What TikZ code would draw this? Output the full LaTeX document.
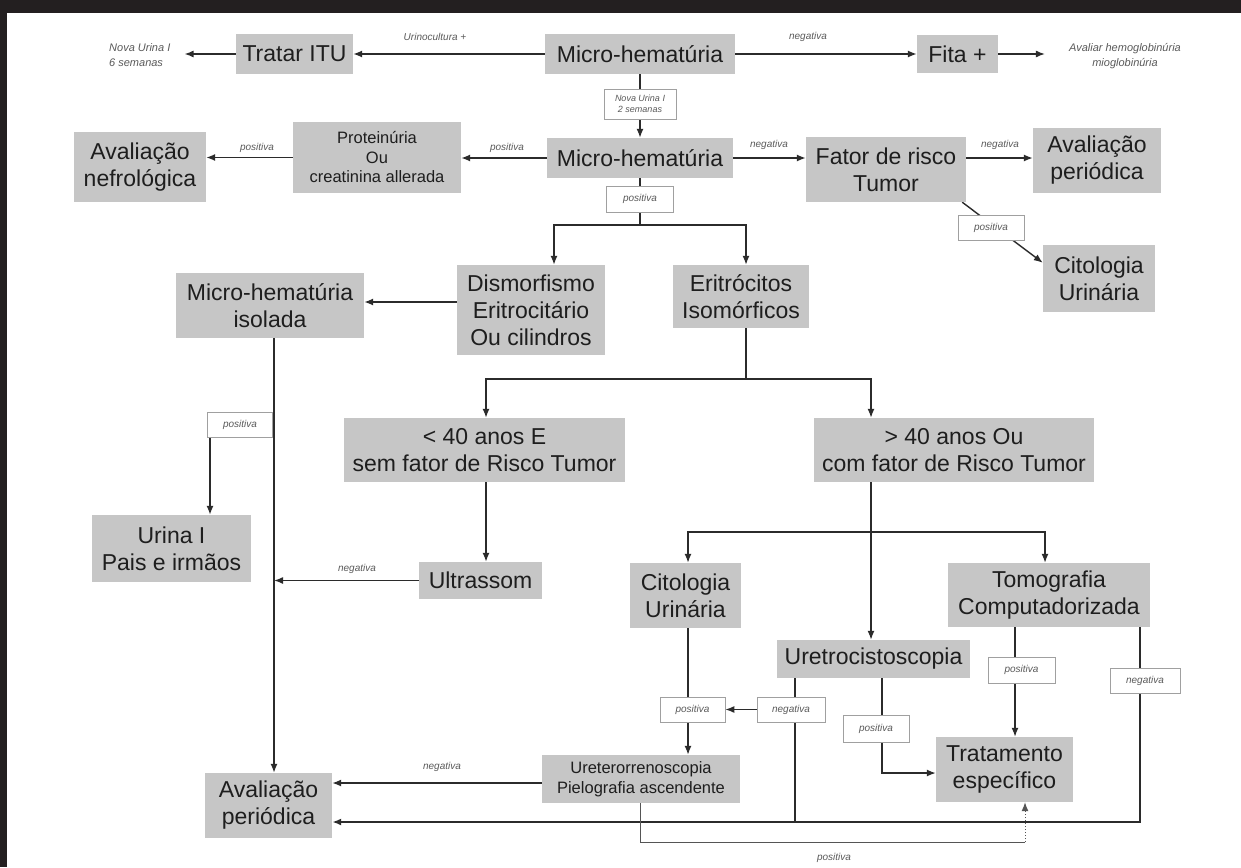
\documentclass[tikz,border=0pt]{standalone}
\usepackage{fontspec}
\setmainfont{Liberation Sans}
\usetikzlibrary{arrows.meta,calc}
\definecolor{boxgray}{HTML}{C6C6C6}
\definecolor{ink}{HTML}{1E1E1E}
\definecolor{lineink}{HTML}{2B2B2B}
\definecolor{lblborder}{HTML}{A0A0A0}
\definecolor{lbltext}{HTML}{5A5A5A}
\definecolor{framecol}{HTML}{231F20}
\pgfdeclarelayer{bg}
\pgfdeclarelayer{paper}
\pgfsetlayers{paper,bg,main}
\begin{document}
\begin{tikzpicture}[x=1pt,y=-1pt,
 box/.style={fill=boxgray, text=ink, inner sep=0pt, align=center, font=\fontsize{23}{27}\selectfont},
 mbox/.style={box, font=\fontsize{16.5}{19.5}\selectfont},
 lbl/.style={draw=lblborder, line width=0.6pt, fill=white, text=lbltext, inner sep=0pt, align=center, font=\fontsize{10}{12}\selectfont\itshape},
 ftxt/.style={text=lbltext, inner sep=0pt, font=\fontsize{10}{12}\selectfont\itshape},
 note/.style={text=lbltext, inner sep=0pt, font=\fontsize{11}{15}\selectfont\itshape},
 ln/.style={draw=lineink, line width=1.4pt},
 arr/.style={ln, -{Latex[length=9pt,width=7pt]}},
]
\useasboundingbox (0,0) rectangle (1241,867);
\begin{pgfonlayer}{paper}
\fill[white] (0,0) rectangle (1241,867);
\fill[framecol] (0,0) rectangle (1241,13);
\fill[framecol] (0,0) rectangle (7,867);
\end{pgfonlayer}

% ---- row 1
\node[box, minimum width=117pt, minimum height=40pt] (tratar) at (294.5,54) {Tratar ITU};
\node[box, minimum width=190pt, minimum height=40pt] (micro1) at (640,54) {Micro-hematúria};
\node[box, minimum width=81pt, minimum height=38pt] (fita) at (957.5,54) {Fita +};
\node[note, align=left, anchor=west] (nova6) at (109,55) {Nova Urina I\\6 semanas};
\node[note, align=center] (avaliar) at (1125,56.5) {Avaliar hemoglobinúria\\mioglobinúria};
\node[ftxt] (tUrino) at (435,37) {Urinocultura +};
\node[ftxt] (tNeg1) at (808,37) {negativa};

% ---- row 2
\node[lbl, minimum width=72pt, minimum height=30pt, font=\fontsize{9}{11}\selectfont\itshape] (lblN2) at (640,104) {Nova Urina I\\2 semanas};
\node[box, minimum width=186pt, minimum height=40pt] (micro2) at (640,158) {Micro-hematúria};
\node[mbox, minimum width=168pt, minimum height=71pt] (prot) at (377,157.5) {Proteinúria\\Ou\\creatinina allerada};
\node[box, minimum width=132pt, minimum height=70pt] (avalnef) at (140,167) {Avaliação\\nefrológica};
\node[box, minimum width=160pt, minimum height=65pt] (fator) at (886,169.5) {Fator de risco\\Tumor};
\node[box, minimum width=128pt, minimum height=65pt] (avalper1) at (1097,160.5) {Avaliação\\periódica};
\node[ftxt] (tPos1) at (257,148) {positiva};
\node[ftxt] (tPos2) at (507,148) {positiva};
\node[ftxt] (tNeg2) at (769,145) {negativa};
\node[ftxt] (tNeg3) at (1000,145) {negativa};

% ---- row 3
\node[lbl, minimum width=67pt, minimum height=26pt] (lblP1) at (640,199) {positiva};
\node[lbl, minimum width=66pt, minimum height=25pt] (lblF) at (991,227.5) {positiva};
\node[box, minimum width=112pt, minimum height=67pt] (citol1) at (1099,278.5) {Citologia\\Urinária};
\node[box, minimum width=148pt, minimum height=90pt] (dismorf) at (531,310) {Dismorfismo\\Eritrocitário\\Ou cilindros};
\node[box, minimum width=136pt, minimum height=63pt] (eritro) at (741,296.5) {Eritrócitos\\Isomórficos};
\node[box, minimum width=188pt, minimum height=65pt] (isolada) at (270,305.5) {Micro-hematúria\\isolada};

% ---- row 4
\node[box, minimum width=281pt, minimum height=64pt] (lt40) at (484.5,450) {< 40 anos E\\sem fator de Risco Tumor};
\node[box, minimum width=280pt, minimum height=64pt] (gt40) at (954,450) {> 40 anos Ou\\com fator de Risco Tumor};
\node[lbl, minimum width=65pt, minimum height=25pt] (lblU) at (240,424.5) {positiva};
\node[box, minimum width=159pt, minimum height=67pt] (urina) at (171.5,548.5) {Urina I\\Pais e irmãos};
\node[box, minimum width=123pt, minimum height=37pt] (ultrassom) at (480.5,580.5) {Ultrassom};
\node[ftxt] (tNeg4) at (357,569) {negativa};

% ---- row 5
\node[box, minimum width=111pt, minimum height=65pt] (citol2) at (685.5,595.5) {Citologia\\Urinária};
\node[box, minimum width=202pt, minimum height=64pt] (tomo) at (1049,595) {Tomografia\\Computadorizada};
\node[box, minimum width=193pt, minimum height=38pt] (uretrocisto) at (873.5,659) {Uretrocistoscopia};
\node[lbl, minimum width=65pt, minimum height=25pt] (lblCP) at (692.5,709.5) {positiva};
\node[lbl, minimum width=68pt, minimum height=25pt] (lblCN) at (791,709.5) {negativa};
\node[lbl, minimum width=66pt, minimum height=27pt] (lblUP) at (876,728.5) {positiva};
\node[lbl, minimum width=67pt, minimum height=26pt] (lblTP) at (1021.5,670) {positiva};
\node[lbl, minimum width=70pt, minimum height=25pt] (lblTN) at (1145,680.5) {negativa};
\node[box, minimum width=137pt, minimum height=65pt] (tratamento) at (1004.5,769.5) {Tratamento\\específico};
\node[mbox, minimum width=198pt, minimum height=48pt] (uretero) at (641,779) {Ureterorrenoscopia\\Pielografia ascendente};
\node[box, minimum width=127pt, minimum height=65pt] (avalper2) at (268.5,805.5) {Avaliação\\periódica};
\node[ftxt] (tNeg5) at (442,767) {negativa};
\node[ftxt] (tPos6) at (834,858) {positiva};

% ---- helper coordinates
\coordinate (b1M) at (640,225);
\coordinate (b1L) at (554,225);
\coordinate (b1R) at (746,225);
\coordinate (b2M) at (746,379);
\coordinate (b2L) at (486,379);
\coordinate (b2R) at (871,379);
\coordinate (b3) at (871,532);
\coordinate (c3L) at (688,532);
\coordinate (c3R) at (1045,532);
\coordinate (mx) at (274,0);
\coordinate (ux) at (210,0);
\coordinate (nx) at (795,0);
\coordinate (tx) at (1140,0);
\coordinate (tp) at (1015,0);
\coordinate (ly) at (0,822);
\coordinate (up) at (882,773);
\coordinate (q1) at (640,842);
\coordinate (q2) at (1025,842);

\begin{pgfonlayer}{bg}
% row 1
\draw[arr] (micro1.west) -- (micro1.west -| tratar.east);
\draw[arr, shorten >=14pt] (tratar.west) -- (tratar.west -| nova6.east);
\draw[arr] (micro1.east) -- (micro1.east -| fita.west);
\draw[arr, shorten >=24pt] (fita.east) -- (fita.east -| avaliar.west);
\draw[arr] (micro1.south) -- (micro2.north);
% row 2
\draw[arr] (micro2.west) -- (micro2.west -| prot.east);
\draw[arr] (prot.west) -- (prot.west -| avalnef.east);
\draw[arr] (micro2.east) -- (micro2.east -| fator.west);
\draw[arr] (micro2.east -| fator.east) -- (micro2.east -| avalper1.west);
\draw[arr] ([xshift=-4pt]fator.south east) -- ([yshift=-18pt]citol1.north west);
% branch 1
\draw[ln] (micro2.south) -- (b1M);
\draw[arr] (b1M) -- (b1L) -- (b1L |- dismorf.north);
\draw[arr] (b1M) -- (b1R) -- (b1R |- eritro.north);
\draw[arr] ([yshift=8pt]dismorf.west) -- ([yshift=8pt]dismorf.west -| isolada.east);
% branch 2
\draw[ln] (b1R |- eritro.south) -- (b2M);
\draw[arr] (b2M) -- (b2L) -- (b2L |- lt40.north);
\draw[arr] (b2M) -- (b2R) -- (b2R |- gt40.north);
% left column
\draw[arr] (mx |- isolada.south) -- (mx |- avalper2.north);
\draw[arr] (ux |- lblU.south) -- (ux |- urina.north);
\draw[arr] (b2L |- lt40.south) -- (b2L |- ultrassom.north);
\draw[arr] (ultrassom.west) -- (ultrassom.west -| mx);
% right part
\draw[arr] (b2R |- gt40.south) -- (b2R |- uretrocisto.north);
\draw[arr] (b3) -- (c3L) -- (c3L |- citol2.north);
\draw[arr] (b3) -- (c3R) -- (c3R |- tomo.north);
\draw[arr] (c3L |- citol2.south) -- (c3L |- uretero.north);
\draw[arr] (lblCN.west) -- (lblCN.west -| lblCP.east);
\draw[ln] (nx |- uretrocisto.south) -- (nx |- ly);
\draw[arr] (up |- uretrocisto.south) -- (up) -- (up -| tratamento.west);
\draw[arr] (tp |- tomo.south) -- (tp |- tratamento.north);
\draw[arr, line width=1.8pt] (tx |- tomo.south) -- (tx |- ly) -- (avalper2.east |- ly);
\draw[arr] ([yshift=-4pt]uretero.west) -- ([yshift=-4pt]uretero.west -| avalper2.east);
\draw[ln, line width=1pt, draw=lineink!80] (uretero.south -| q1) -- (q1) -- (q2);
\draw[arr, line width=1pt, draw=lineink!80, dotted] (q2) -- (q2 |- tratamento.south);
\end{pgfonlayer}
\end{tikzpicture}
\end{document}
